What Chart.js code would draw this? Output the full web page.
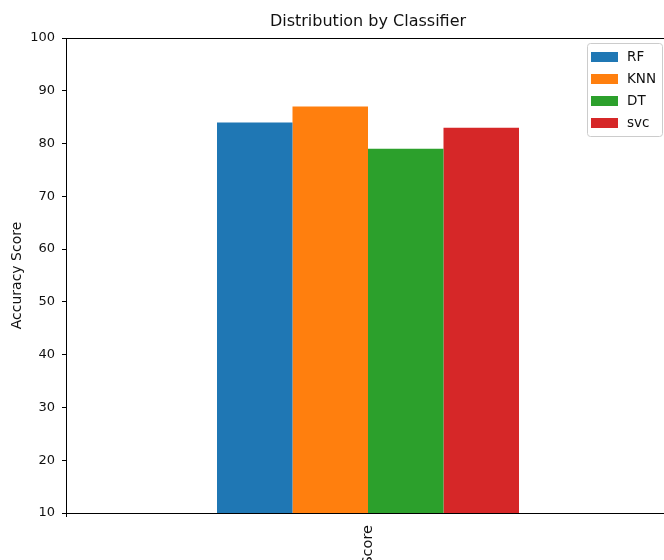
<!DOCTYPE html>
<html>
<head>
<meta charset="utf-8">
<script src="https://cdn.jsdelivr.net/npm/chart.js@4.4.0/dist/chart.umd.min.js"></script>
<style>
  html, body { margin: 0; padding: 0; overflow: hidden; background: #fff; }
  #wrap { width: 672px; height: 560px; }
</style>
</head>
<body>
<div id="wrap"><canvas id="chart" width="672" height="560"></canvas></div>
<script>
// data
const categories = ["Score"];
const classifiers = ["RF", "KNN", "DT", "svc"];
const rfScores = [84];
const knnScores = [87];
const dtScores = [79];
const svcScores = [83];
const yTicks = [10, 20, 30, 40, 50, 60, 70, 80, 90, 100];
const chartTitle = "Distribution by Classifier";

const colors = ["#1f77b4", "#ff7f0e", "#2ca02c", "#d62728"];
const seriesValues = [rfScores, knnScores, dtScores, svcScores];
const font = "'DejaVu Sans', sans-serif";

// four spines like matplotlib, and the title centred over the axes
const spines = {
    id: "spines",
    afterDraw(chart) {
        const ctx = chart.ctx;
        const a = chart.chartArea;
        ctx.save();
        ctx.strokeStyle = "#000";
        ctx.lineWidth = 1;
        ctx.strokeRect(Math.round(a.left) + 0.5, Math.round(a.top) + 0.5,
            Math.round(a.right - a.left), Math.round(a.bottom - a.top));
        ctx.fillStyle = "#111";
        ctx.font = "16px " + font;
        ctx.textAlign = "center";
        ctx.textBaseline = "middle";
        ctx.fillText(chartTitle, (a.left + a.right) / 2, a.top - 16);
        ctx.restore();
    }
};

// legend box in the upper right corner
const boxLegend = {
    id: "boxLegend",
    afterDraw(chart) {
        const ctx = chart.ctx;
        const a = chart.chartArea;
        const sets = chart.data.datasets;
        const w = 75, rowH = 22;
        const h = sets.length * rowH + 5;
        const x = a.right - 8 - w;
        const y = a.top + 5;
        ctx.save();
        ctx.fillStyle = "rgba(255,255,255,0.8)";
        ctx.strokeStyle = "#cccccc";
        ctx.lineWidth = 1;
        ctx.beginPath();
        ctx.roundRect(x + 0.5, y + 0.5, w, h, 3);
        ctx.fill();
        ctx.stroke();
        ctx.font = "13.5px " + font;
        ctx.textBaseline = "middle";
        sets.forEach((ds, i) => {
            const cy = y + 14 + i * rowH;
            ctx.fillStyle = ds.backgroundColor;
            ctx.fillRect(x + 4, cy - 5, 27, 10);
            ctx.fillStyle = "#111";
            ctx.fillText(ds.label, x + 40, cy);
        });
        ctx.restore();
    }
};

const datasets = classifiers.map((name, i) => ({
    label: name,
    data: seriesValues[i],
    backgroundColor: colors[i],
    borderWidth: 0,
    categoryPercentage: 0.5,
    barPercentage: 1.0
}));

const ctx = document.getElementById("chart").getContext("2d");
const chart = new Chart(ctx, {
    type: "bar",
    data: {
        labels: categories,
        datasets: datasets
    },
    options: {
        responsive: false,
        animation: false,
        layout: { padding: { top: 38, left: 0, right: 2, bottom: 0 } },
        plugins: {
            legend: { display: false },
            tooltip: { enabled: false },
            title: { display: false }
        },
        scales: {
            x: {
                afterFit: (scale) => { scale.height = 47; },
                border: { display: false },
                grid: { drawOnChartArea: false, drawTicks: true, tickLength: 4, color: "#000" },
                ticks: {
                    minRotation: 90,
                    maxRotation: 90,
                    padding: 8,
                    color: "#111",
                    font: { family: font, size: 14.5 }
                }
            },
            y: {
                min: 10,
                max: 100,
                afterFit: (scale) => { scale.width = 66; },
                afterBuildTicks: (scale) => { scale.ticks = yTicks.map(v => ({ value: v })); },
                border: { display: false },
                grid: { drawOnChartArea: false, drawTicks: true, tickLength: 4, color: "#000" },
                ticks: {
                    padding: 7,
                    color: "#111",
                    font: { family: font, size: 13 }
                },
                title: {
                    display: true,
                    text: "Accuracy Score",
                    color: "#111",
                    font: { family: font, size: 14 },
                    padding: { top: 9, bottom: 0 }
                }
            }
        }
    },
    plugins: [spines, boxLegend]
});
</script>
</body>
</html>
